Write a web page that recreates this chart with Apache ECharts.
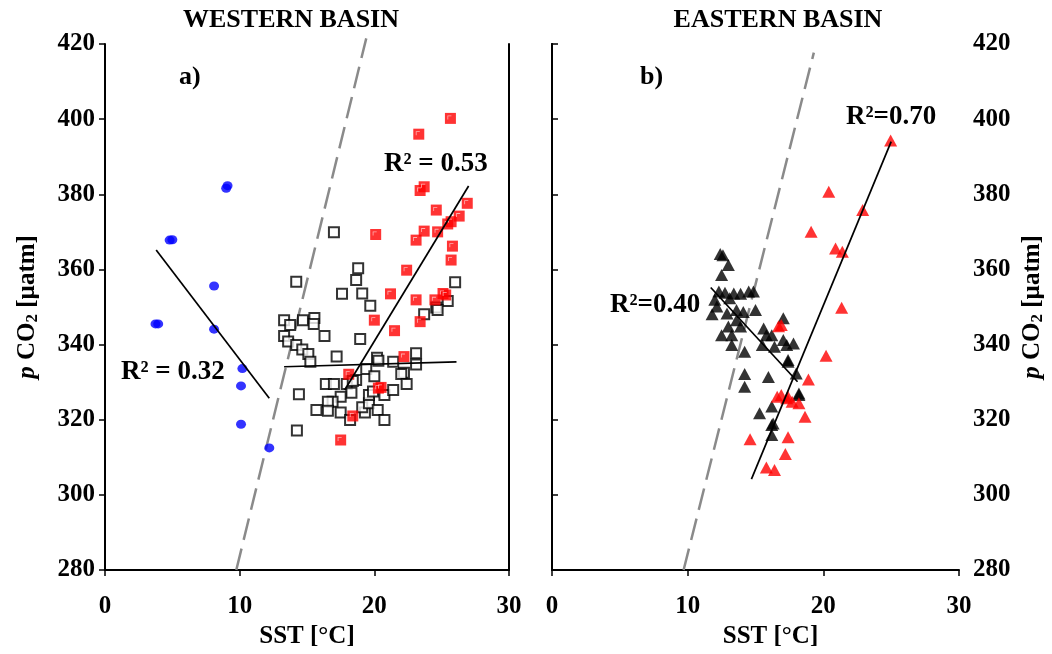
<!DOCTYPE html>
<html><head><meta charset="utf-8">
<script src="https://cdn.jsdelivr.net/npm/echarts@6/dist/echarts.min.js"></script>
<style>html,body{margin:0;padding:0;background:#fff}#c{width:1052px;height:654px}</style>
</head><body><div id="c"></div>
<script>
// ---- DATA ----
const xTicks = [0, 10, 20, 30];
const yTicks = [280, 300, 320, 340, 360, 380, 400, 420];

const westBlue = [[9.0,381.6],[9.1,382.3],[4.8,367.8],[5.0,367.9],[8.1,355.6],[3.75,345.5],[3.95,345.5],[8.1,344.1],[10.2,333.6],[10.1,329.0],[10.1,318.8],[12.2,312.5]];

const westRed = [[25.65,400.2],[23.3,396.0],[23.4,381.0],[23.7,382.0],[26.9,377.6],[26.3,374.2],[25.7,372.7],[25.45,372.1],[24.6,375.8],[23.7,370.2],[24.7,370.0],[23.1,367.8],[20.1,369.3],[25.8,366.2],[25.7,362.5],[22.4,359.8],[21.2,353.5],[23.1,351.9],[24.5,351.9],[25.1,353.6],[25.3,353.2],[20.0,346.5],[21.5,343.7],[23.4,346.1],[22.2,336.8],[18.1,332.1],[20.3,328.4],[20.5,328.6],[18.4,321.0],[17.5,314.6]];

const westBlack = [[17.0,369.9],[14.2,356.7],[18.8,360.3],[18.65,357.2],[17.6,353.5],[19.1,353.6],[19.7,350.3],[26.0,356.6],[25.45,351.6],[24.6,349.9],[24.7,349.2],[23.7,348.1],[13.3,346.5],[13.75,345.2],[14.7,346.5],[15.55,347.1],[15.5,345.5],[13.3,342.3],[13.6,340.8],[14.2,339.9],[14.65,338.7],[15.1,337.5],[15.25,335.4],[16.3,342.3],[17.2,336.8],[18.95,341.5],[20.2,336.5],[20.3,335.7],[21.4,335.4],[23.1,337.7],[23.1,334.7],[22.2,332.5],[22.0,332.2],[22.4,329.5],[19.4,333.5],[20.0,331.6],[18.65,330.6],[17.95,329.5],[16.4,329.5],[17.0,329.5],[18.3,327.2],[17.5,326.1],[16.9,324.8],[16.55,324.8],[15.7,322.6],[16.55,322.4],[17.5,321.9],[18.2,319.9],[19.3,321.9],[19.1,323.3],[19.6,324.4],[20.25,322.6],[20.75,319.9],[19.6,326.6],[19.9,327.5],[20.75,326.6],[21.4,327.9],[18.4,330.3],[14.4,326.8],[14.25,317.1]];

const eastRed = [[24.96,394.3],[20.4,380.7],[22.9,375.8],[19.1,370.0],[20.9,365.6],[21.4,364.7],[21.35,349.8],[20.2,337.0],[18.9,330.7],[16.9,345.2],[16.7,344.9],[16.6,326.1],[16.9,326.6],[17.4,326.1],[18.2,324.4],[17.7,324.8],[17.3,325.7],[18.65,320.8],[14.6,314.8],[17.4,315.3],[17.2,310.9],[15.8,307.3],[16.4,306.6]];

const eastBlack = [[12.4,364.1],[12.6,363.8],[13.0,361.2],[12.5,358.5],[12.3,354.1],[12.75,353.8],[13.4,353.6],[13.9,353.5],[14.5,354.1],[14.85,354.1],[13.1,352.3],[12.0,351.9],[11.8,348.1],[12.15,350.1],[12.9,348.3],[13.6,349.2],[14.1,348.7],[15.0,349.2],[13.6,346.5],[13.0,344.8],[12.5,342.5],[13.25,342.5],[13.9,344.8],[13.25,339.9],[14.2,338.1],[15.6,344.3],[15.8,342.5],[16.2,342.5],[15.5,339.9],[16.4,339.4],[17.05,341.2],[17.3,339.9],[17.8,340.3],[17.4,335.4],[17.4,335.9],[14.2,332.2],[14.2,328.8],[15.95,331.4],[18.0,332.3],[18.2,327.0],[18.2,326.6],[15.3,321.7],[16.2,323.5],[16.3,319.0],[16.2,315.9],[16.2,318.6],[17.05,347.0]];

// regression / reference line end points
const westBlueFit = [[3.8,365.2],[12.2,325.7]];
const westBlackFit = [[13.3,334.1],[26.1,335.4]];
const westRedFit = [[17.8,327.9],[27.0,382.2]];
const westDash = [[9.75,280],[19.4,421.5]];
const eastBlackFit = [[11.7,355.2],[18.1,330.1]];
const eastRedFit = [[14.7,304.2],[25.0,394.0]];
const eastDash = [[9.7,280],[19.3,417.7]];

const panelTitles = ['WESTERN BASIN', 'EASTERN BASIN'];
const panelLetters = ['a)', 'b)'];
const r2Labels = ['R\u00b2 = 0.53', 'R\u00b2 = 0.32', 'R\u00b2=0.70', 'R\u00b2=0.40'];

// ---- CHART ----
const FONT = '"Liberation Serif", "Times New Roman", serif';
const FS = 25;
const chart = echarts.init(document.getElementById('c'));
const axisLine = {show: true, lineStyle: {color: '#000', width: 2}};
const lbl = {color: '#000', fontFamily: FONT, fontWeight: 'bold', fontSize: FS};
const yName = '{i|p} {n|CO}{s|2}{n| [\u00b5atm]}';
const yNameStyle = {
  color: '#000', fontFamily: FONT, fontWeight: 'bold', fontSize: FS,
  rich: {
    i: {fontFamily: FONT, fontWeight: 'bold', fontStyle: 'italic', fontSize: FS, color: '#000'},
    n: {fontFamily: FONT, fontWeight: 'bold', fontSize: FS, color: '#000'},
    s: {fontFamily: FONT, fontWeight: 'bold', fontSize: 17, color: '#000', padding: [10, 0, 0, 0]}
  }
};
function xAxis(gi, shift) {
  return {type: 'value', gridIndex: gi, min: xTicks[0], max: xTicks[xTicks.length-1], interval: 10,
    name: 'SST [\u00b0C]', nameLocation: 'middle', nameGap: 47,
    nameTextStyle: {color: '#000', fontFamily: FONT, fontWeight: 'bold', fontSize: FS, padding: [0, 0, 0, shift]},
    axisLine: axisLine, axisTick: {show: true, inside: false, length: 6, lineStyle: {color: '#000', width: 1.5}},
    axisLabel: Object.assign({margin: 24}, lbl), splitLine: {show: false}};
}
function yAxis(gi, pos, show) {
  return {type: 'value', gridIndex: gi, position: pos, min: yTicks[0], max: yTicks[yTicks.length-1], interval: 20,
    name: show ? yName : '', nameLocation: 'middle', nameGap: pos === 'left' ? 64 : 60, nameRotate: 90,
    nameTextStyle: yNameStyle,
    axisLine: axisLine, axisTick: {show: show, length: 6, lineStyle: {color: '#000', width: 1.5}},
    axisLabel: Object.assign({show: show, margin: pos === 'left' ? 10 : 14}, lbl), splitLine: {show: false}};
}
function line(xi, yi, data, z) {
  return {type: 'line', xAxisIndex: xi, yAxisIndex: yi, data: data, symbol: 'none', silent: true,
    lineStyle: {color: '#000', width: 1.7}, z: z};
}
function dash(xi, yi, data) {
  return {type: 'line', xAxisIndex: xi, yAxisIndex: yi, data: data, symbol: 'none', silent: true, z: 1, clip: false,
    lineStyle: {color: '#8a8a8a', width: 2.5, type: [22, 9]}};
}
function pts(xi, yi, data, symbol, size, style, z, extra) {
  return Object.assign({type: 'scatter', xAxisIndex: xi, yAxisIndex: yi, data: data, symbol: symbol, symbolSize: size,
    itemStyle: style, z: z, silent: true}, extra || {});
}
const txt = (x, y, s, size, align) => ({type: 'text', x: x, y: y, z: 100,
  style: {text: s, fill: '#000', font: 'bold ' + size + 'px ' + FONT, textAlign: align || 'left', textVerticalAlign: 'middle'}});
const tick = 'path://M0,0 L10,0 L10,2 L2,2 L2,10 L0,10 Z';

chart.setOption({
  animation: false,
  backgroundColor: '#fff',
  grid: [
    {left: 105, top: 44, width: 404, height: 526},
    {left: 552, top: 44, width: 407, height: 526}
  ],
  xAxis: [xAxis(0, 0), xAxis(1, 30)],
  yAxis: [yAxis(0, 'left', true), yAxis(0, 'right', false), yAxis(1, 'right', true), yAxis(1, 'left', false)],
  series: [
    dash(0, 0, westDash),
    dash(1, 2, eastDash),
    pts(0, 0, westBlack, 'rect', 10, {color: '#fff', borderColor: '#000', borderWidth: 2}, 3),
    pts(0, 0, westRed, 'rect', 11, {color: '#ff0000'}, 4),
    pts(0, 0, westRed, tick, 4, {color: '#ffd0d0'}, 5, {symbolOffset: [-1, -1]}),
    pts(0, 0, westBlue, 'circle', [10, 9], {color: '#0000ff'}, 4),
    line(0, 0, westBlueFit, 6),
    line(0, 0, westBlackFit, 6),
    line(0, 0, westRedFit, 6),
    pts(1, 2, eastBlack, 'triangle', [13, 12], {color: '#000'}, 3),
    pts(1, 2, eastRed, 'triangle', [13, 12], {color: '#ff0000'}, 4),
    line(1, 2, eastBlackFit, 6),
    line(1, 2, eastRedFit, 6)
  ],
  graphic: [
    txt(291, 20, panelTitles[0], 26, 'center'),
    txt(778, 20, panelTitles[1], 26, 'center'),
    txt(179, 77, panelLetters[0], 26),
    txt(640, 77, panelLetters[1], 26),
    txt(384, 164, r2Labels[0], 27),
    txt(121, 372, r2Labels[1], 27),
    txt(846, 117, r2Labels[2], 27),
    txt(610, 305, r2Labels[3], 27)
  ]
});
</script></body></html>
